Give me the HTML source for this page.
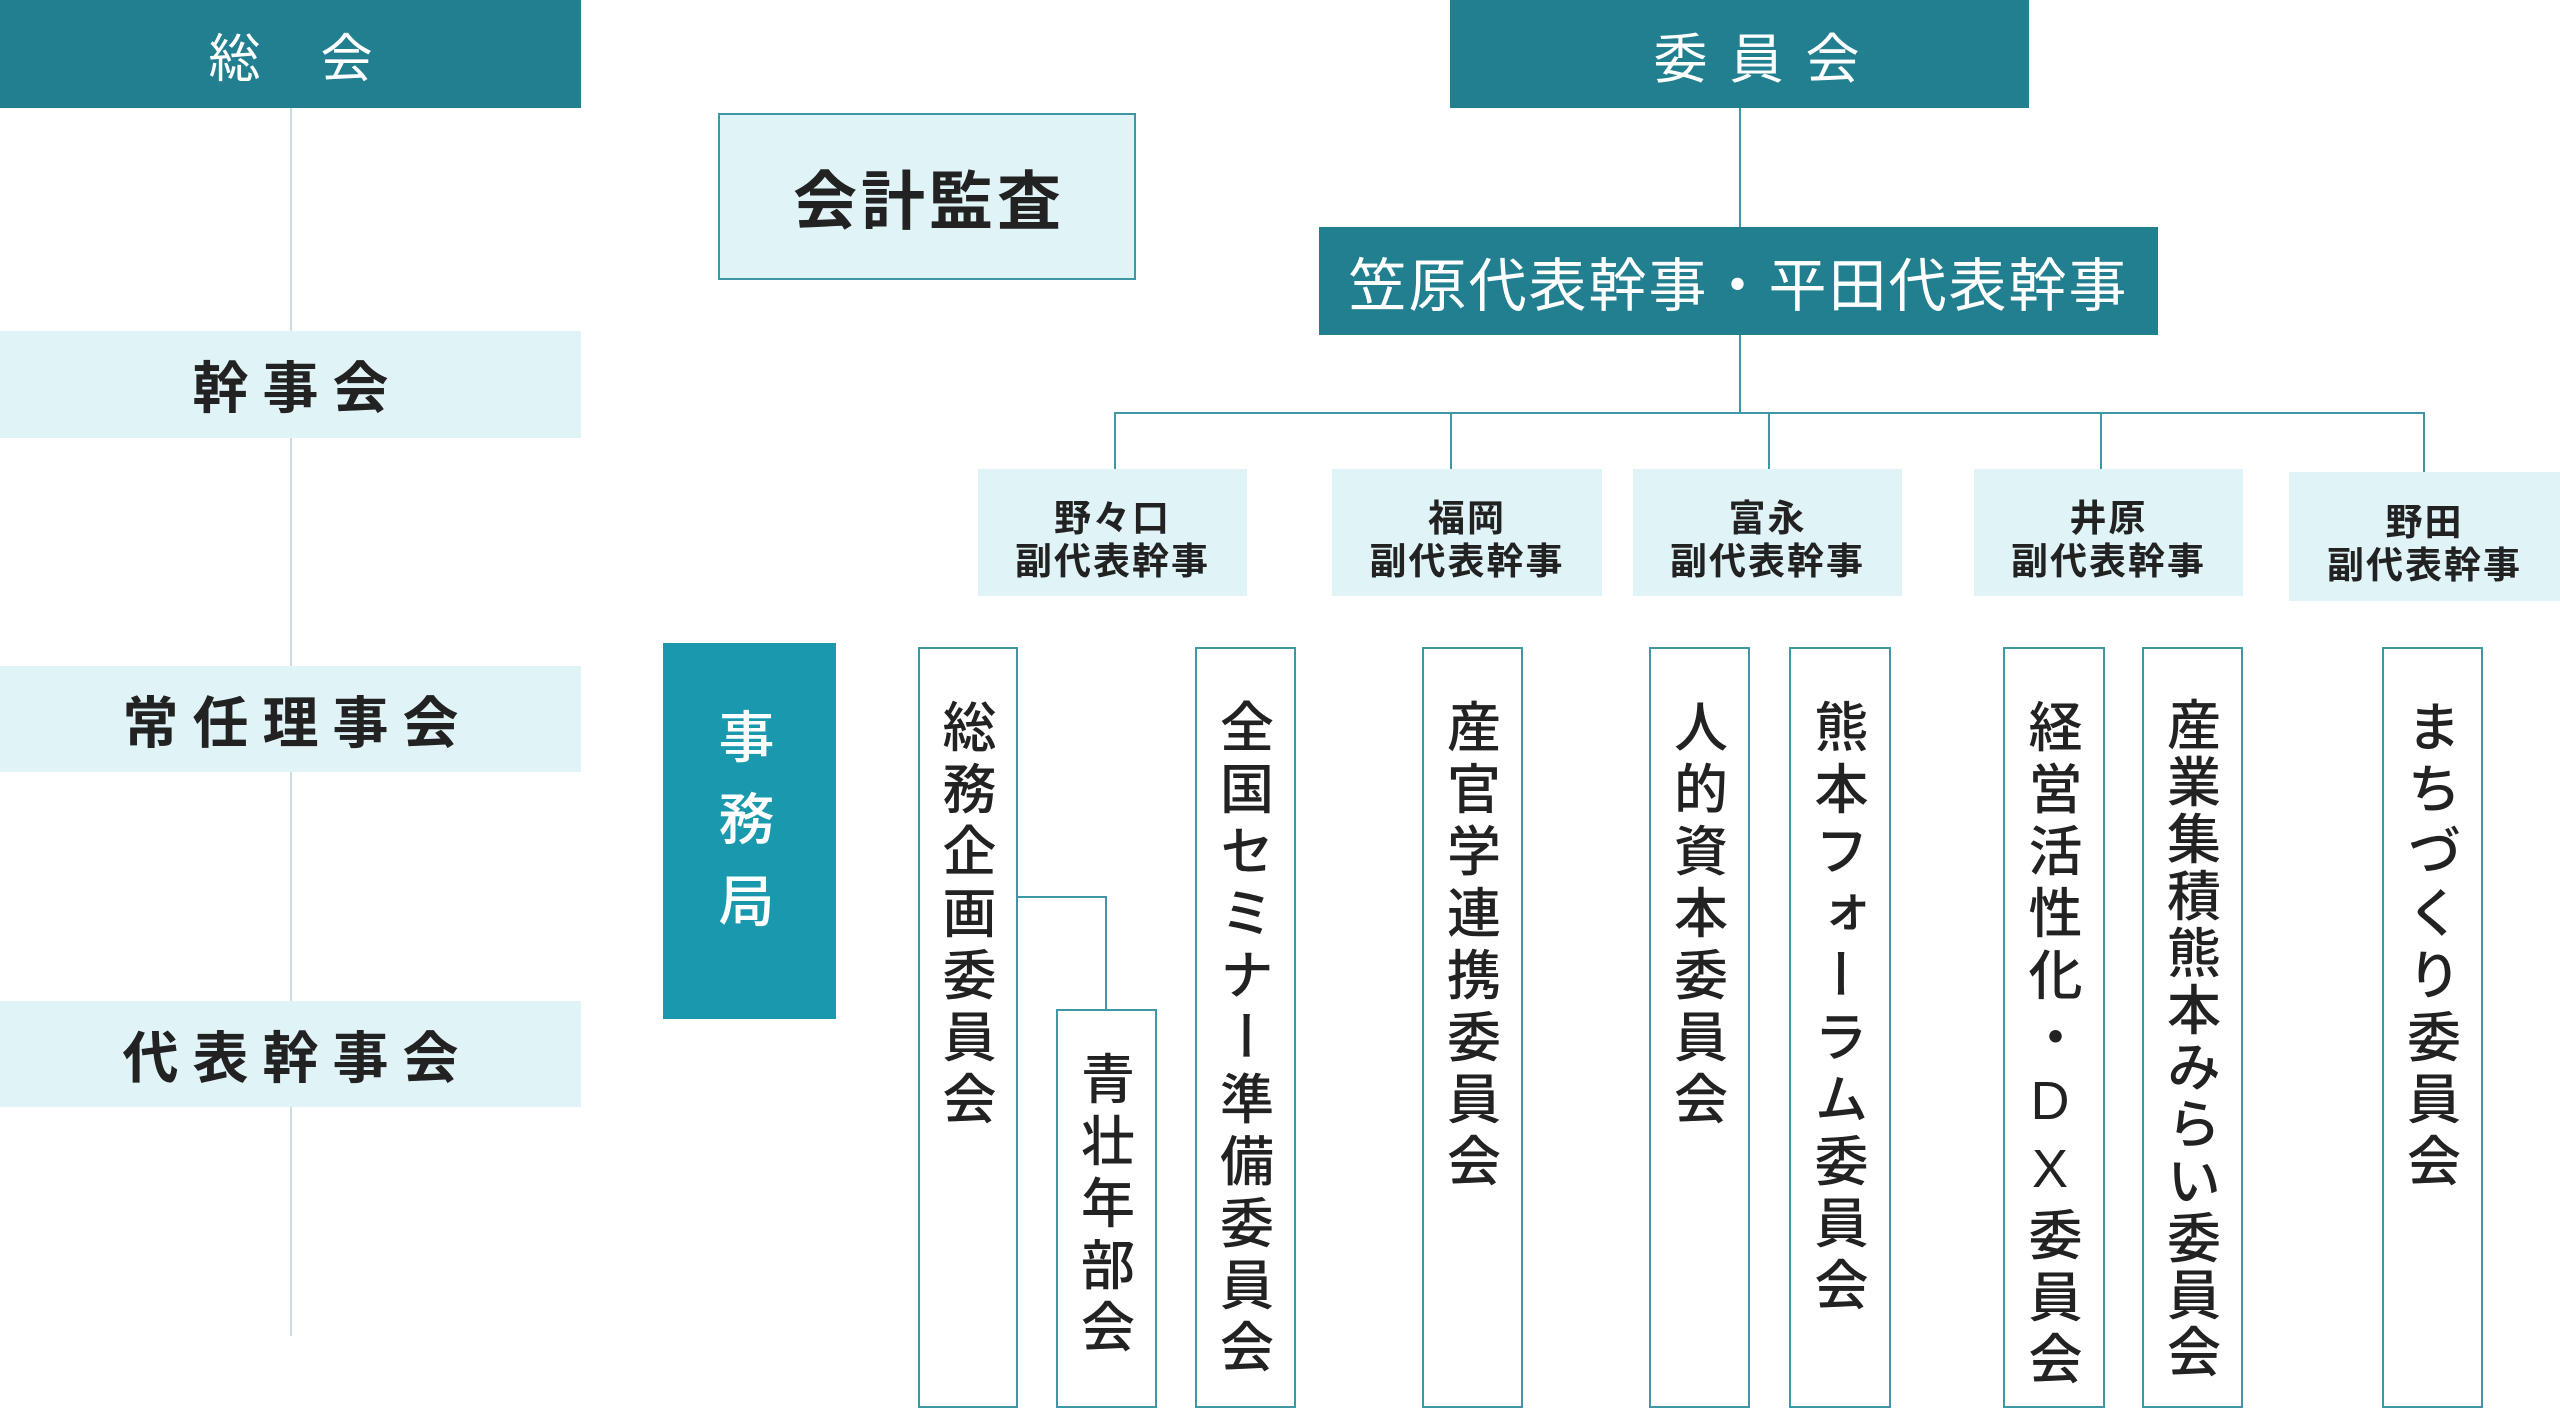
<!DOCTYPE html>
<html><head><meta charset="utf-8"><style>
*{margin:0;padding:0;box-sizing:border-box}
body{width:2560px;height:1411px;background:#fff;position:relative;overflow:hidden;font-family:"Liberation Sans","Noto Sans CJK JP",sans-serif;color:#222}
.a{position:absolute}
.dark{background:#217f8f;color:#fff;display:flex;align-items:center;justify-content:center}
.lt{background:#e0f3f7;display:flex;align-items:center;justify-content:center;font-weight:700}
.ln{position:absolute;background:#c9dde2}
.tl{position:absolute;background:#3f97a6}
.v{position:absolute;top:647px;height:761px;border:2px solid #3f97a6;background:#fff;writing-mode:vertical-rl;text-orientation:upright;font-size:54px;font-weight:500;letter-spacing:8px;padding-top:50px;padding-right:8px;display:flex;align-items:center;line-height:1}
.sub{position:absolute;top:469px;height:127px;background:#e0f3f7;font-size:37px;font-weight:700;text-align:center;display:flex;flex-direction:column;align-items:center;justify-content:center;line-height:1.15;letter-spacing:2px;padding-top:17px}
</style></head><body>
<div class="ln" style="left:290px;top:108px;width:2px;height:1228px"></div>
<div class="a dark" style="left:0;top:0;width:581px;height:108px;font-size:52px;letter-spacing:60px;padding-left:60px">総会</div>
<div class="a lt" style="left:0;top:331px;width:581px;height:107px;font-size:56px;letter-spacing:14px;padding-left:14px">幹事会</div>
<div class="a lt" style="left:0;top:666px;width:581px;height:106px;font-size:56px;letter-spacing:14px;padding-left:14px">常任理事会</div>
<div class="a lt" style="left:0;top:1001px;width:581px;height:106px;font-size:56px;letter-spacing:14px;padding-left:14px">代表幹事会</div>
<div class="a lt" style="left:718px;top:113px;width:418px;height:167px;border:2px solid #3f97a6;font-size:64px;letter-spacing:4px;padding-left:4px">会計監査</div>
<div class="tl" style="left:1739px;top:108px;width:2px;height:305px"></div>
<div class="tl" style="left:1114px;top:412px;width:1310px;height:2px"></div>
<div class="tl" style="left:1114px;top:412px;width:2px;height:57px"></div>
<div class="tl" style="left:1450px;top:412px;width:2px;height:57px"></div>
<div class="tl" style="left:1768px;top:412px;width:2px;height:57px"></div>
<div class="tl" style="left:2100px;top:412px;width:2px;height:57px"></div>
<div class="tl" style="left:2423px;top:412px;width:2px;height:60px"></div>
<div class="a dark" style="left:1450px;top:0;width:579px;height:108px;font-size:54px;letter-spacing:22px;padding-left:56px">委員会</div>
<div class="a dark" style="left:1319px;top:227px;width:839px;height:108px;font-size:58px;letter-spacing:2px">笠原代表幹事・平田代表幹事</div>
<div class="sub" style="left:978px;width:269px">野々口<br>副代表幹事</div>
<div class="sub" style="left:1332px;width:270px">福岡<br>副代表幹事</div>
<div class="sub" style="left:1633px;width:269px">富永<br>副代表幹事</div>
<div class="sub" style="left:1974px;width:269px">井原<br>副代表幹事</div>
<div class="sub" style="left:2289px;top:472px;width:271px;height:129px">野田<br>副代表幹事</div>
<div class="a" style="left:663px;top:643px;width:173px;height:376px;background:#1a98ad;color:#fff;writing-mode:vertical-rl;text-orientation:upright;font-size:56px;font-weight:500;display:flex;align-items:center;justify-content:center;letter-spacing:26px;padding-top:0;padding-right:14px">事務局</div>
<div class="tl" style="left:1017px;top:896px;width:90px;height:2px"></div>
<div class="tl" style="left:1105px;top:896px;width:2px;height:113px"></div>
<div class="v" style="left:918px;width:100px">総務企画委員会</div>
<div class="v" style="left:1056px;top:1009px;height:399px;width:101px;padding-top:40px">青壮年部会</div>
<div class="v" style="left:1195px;width:101px">全国セミナー準備委員会</div>
<div class="v" style="left:1422px;width:101px">産官学連携委員会</div>
<div class="v" style="left:1649px;width:101px">人的資本委員会</div>
<div class="v" style="left:1789px;width:102px">熊本フォーラム委員会</div>
<div class="v" style="left:2003px;width:102px">経営活性化・DX委員会</div>
<div class="v" style="left:2142px;width:101px;letter-spacing:3px;padding-top:48px">産業集積熊本みらい委員会</div>
<div class="v" style="left:2382px;width:101px">まちづくり委員会</div>
</body></html>
